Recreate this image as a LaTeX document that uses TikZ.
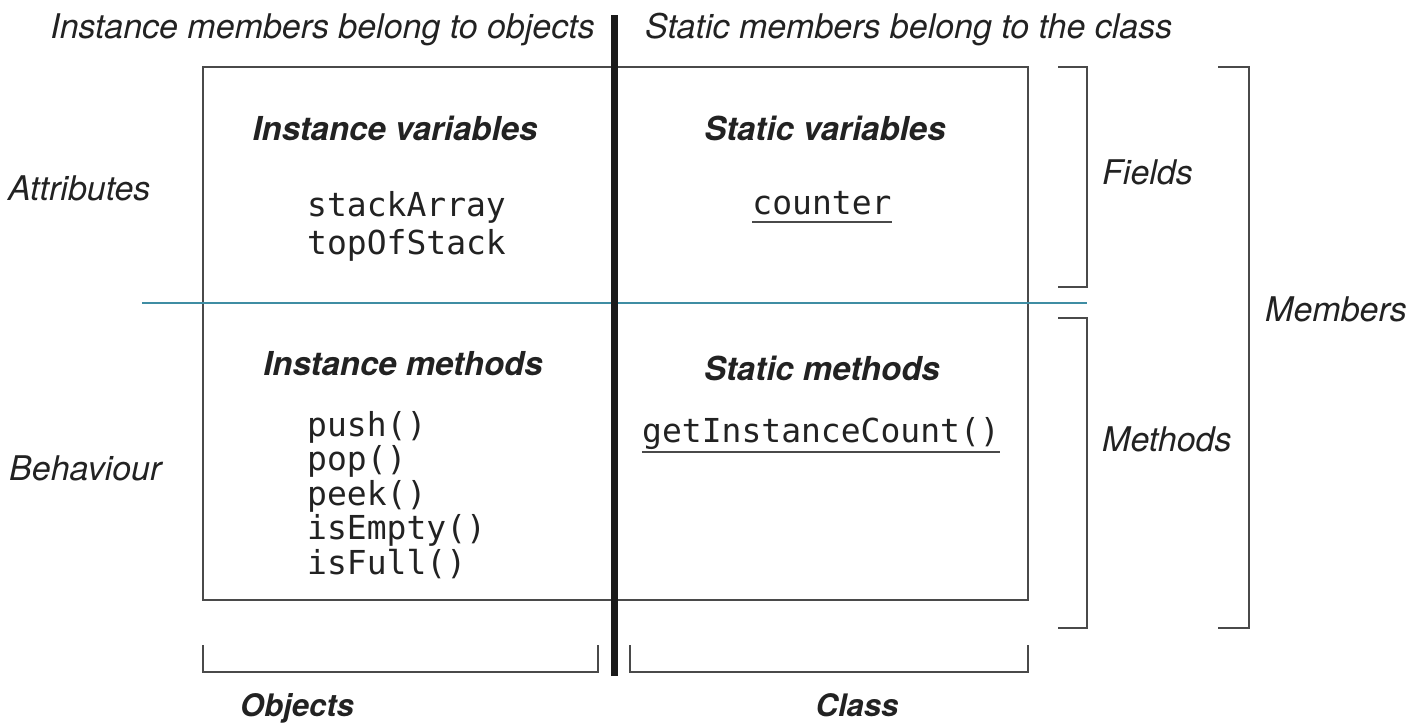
\documentclass[tikz,border=0pt]{standalone}
\usepackage{fontspec}
\setsansfont{TeX Gyre Heros}
\setmonofont{DejaVu Sans Mono}
\definecolor{ink}{HTML}{222222}
\definecolor{linegray}{HTML}{4A4A4A}
\definecolor{divider}{HTML}{1A1A1A}
\definecolor{teal}{HTML}{3F8DA3}
\begin{document}
\begin{tikzpicture}[x=1pt,y=-1pt,
  frame/.style={draw=linegray, line width=2pt},
  brk/.style={draw=linegray, line width=2pt, line join=miter},
  lbl/.style={font=\fontsize{34}{40}\selectfont\sffamily\itshape, text=ink, inner sep=0pt},
  hdr/.style={font=\fontsize{33}{40}\selectfont\sffamily\bfseries\itshape, text=ink, inner sep=0pt},
  foot/.style={font=\fontsize{31}{38}\selectfont\sffamily\bfseries\itshape, text=ink, inner sep=0pt},
  code/.style={font=\fontsize{33}{38}\selectfont\ttfamily, text=ink, inner sep=0pt},
  uline/.style={draw=linegray, line width=2pt}]
\useasboundingbox (0,0) rectangle (1421,724);
\fill[white] (0,0) rectangle (1421,724);

% main frame
\draw[frame] (203,67) rectangle (1028,600);
% field / method divider
\draw[teal, line width=2.5pt] (142,303) -- (1087,303);
% instance / static divider
\draw[divider, line width=7pt] (614,15) -- (614,676);

% top captions
\node[lbl, anchor=base east] (instcap) at (595,38) {Instance members belong to objects};
\node[lbl, anchor=base west] (statcap) at (645,38) {Static members belong to the class};

% headings
\node[hdr, anchor=base] (ivar) at (395,140) {Instance variables};
\node[hdr, anchor=base] (svar) at (825,140) {Static variables};
\node[hdr, anchor=base] (imeth) at (403,375) {Instance methods};
\node[hdr, anchor=base] (smeth) at (822,380) {Static methods};

% instance variables
\node[code, anchor=base west] (stackArray) at (307,216) {stackArray};
\node[code, anchor=base west] (topOfStack) at (307,254) {topOfStack};

% static variable
\node[code, anchor=base] (counter) at (822,214) {counter};
\draw[uline] ([yshift=-8pt]counter.base west) -- ([yshift=-8pt]counter.base east);

% instance methods
\node[code, anchor=base west] (push) at (307,436) {push()};
\node[code, anchor=base west] (pop) at (307,470) {pop()};
\node[code, anchor=base west] (peek) at (307,505) {peek()};
\node[code, anchor=base west] (isEmpty) at (307,539) {isEmpty()};
\node[code, anchor=base west] (isFull) at (307,574) {isFull()};

% static method
\node[code, anchor=base] (getcount) at (821,442) {getInstanceCount()};
\draw[uline] ([yshift=-10pt]getcount.base west) -- ([yshift=-10pt]getcount.base east);

% row labels
\node[lbl, anchor=base west] (attr) at (8,200) {Attributes};
\node[lbl, anchor=base west] (behav) at (9,480) {Behaviour};

% right-hand brackets
\draw[brk] (1058,67) -- (1087,67) -- (1087,287) -- (1058,287);
\draw[brk] (1058,318) -- (1087,318) -- (1087,628) -- (1058,628);
\draw[brk] (1218,67) -- (1249,67) -- (1249,628) -- (1218,628);
\node[lbl, anchor=base west] (fields) at (1102,184) {Fields};
\node[lbl, anchor=base west] (methods) at (1102,451) {Methods};
\node[lbl, anchor=base west] (members) at (1265,321) {Members};

% bottom brackets
\draw[brk] (203,645) -- (203,672) -- (598,672) -- (598,645);
\draw[brk] (630,645) -- (630,672) -- (1028,672) -- (1028,645);
\node[foot, anchor=base] (objects) at (297,716) {Objects};
\node[foot, anchor=base] (class) at (857,716) {Class};
\end{tikzpicture}
\end{document}
